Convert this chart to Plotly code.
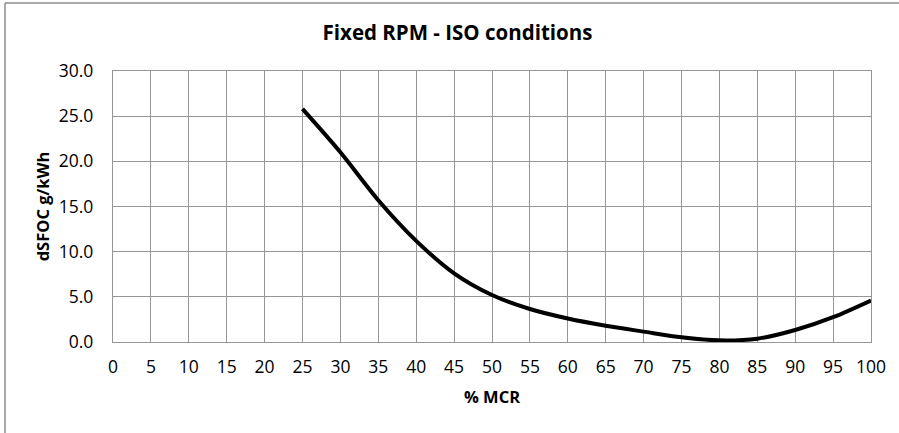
import plotly.graph_objects as go

# % MCR load points and the fuel-oil-consumption deviation at each
mcr_pct = [25, 30, 35, 40, 45, 50, 55, 60, 65, 70, 75, 80, 85, 90, 95, 100]
dsfoc = [25.8, 21.0, 15.7, 11.2, 7.6, 5.2, 3.65, 2.6, 1.8, 1.15, 0.52, 0.18, 0.37, 1.33, 2.75, 4.6]

x_ticks = list(range(0, 101, 5))
y_ticks = [0, 5, 10, 15, 20, 25, 30]
y_tick_text = [f"{v:.1f}" for v in y_ticks]

W, H = 899, 433
L, R, T, B = 113, 28, 71, 91
pw, ph = W - L - R, H - T - B


def px_x(p):
    return (p - L) / pw


def px_y(p):
    return (H - B - p) / ph


grid = "#969696"
font_family = "Open Sans, Liberation Sans, sans-serif"

fig = go.Figure()
fig.add_trace(go.Scatter(
    x=mcr_pct, y=dsfoc, mode="lines",
    line=dict(color="black", width=4, shape="spline", smoothing=0.8),
    showlegend=False, hoverinfo="x+y",
))

fig.update_layout(
    width=W, height=H,
    margin=dict(l=L, r=R, t=T, b=B),
    paper_bgcolor="white", plot_bgcolor="white",
    font=dict(family=font_family, color="black", size=17),
    title=dict(
        text="<b>Fixed RPM - ISO conditions</b>",
        font=dict(size=20.5, family=font_family, color="black"),
        x=px_x(457.5), xref="paper", xanchor="center",
        y=1 - 33 / H, yref="container", yanchor="middle",
    ),
    xaxis=dict(
        range=[0, 100], tickvals=x_ticks, ticktext=[str(v) for v in x_ticks],
        showgrid=True, gridcolor=grid, gridwidth=1.3,
        showline=True, linecolor=grid, linewidth=1.3, mirror=True,
        zeroline=False, ticks="", ticklabelstandoff=9,
        tickfont=dict(size=17.5),
        title=dict(text="<b>% MCR</b>", font=dict(size=16.5), standoff=14),
        fixedrange=True,
    ),
    yaxis=dict(
        range=[0, 30], tickvals=y_ticks, ticktext=y_tick_text,
        showgrid=True, gridcolor=grid, gridwidth=1.3,
        showline=True, linecolor=grid, linewidth=1.3, mirror=True,
        zeroline=False, ticks="", ticklabelstandoff=15,
        tickfont=dict(size=17.5),
        title=dict(text="<b>dSFOC g/kWh</b>", font=dict(size=16.5), standoff=4),
        fixedrange=True,
    ),
    shapes=[
        # chart-area frame (left and top edges)
        dict(type="line", xref="paper", yref="paper",
             x0=px_x(5), x1=px_x(5), y0=px_y(H + 5), y1=px_y(3),
             line=dict(color="#8c8c8c", width=1.5)),
        dict(type="line", xref="paper", yref="paper",
             x0=px_x(5), x1=px_x(W + 5), y0=px_y(3), y1=px_y(3),
             line=dict(color="#8c8c8c", width=1.5)),
    ],
)

fig.write_html("out.html")
